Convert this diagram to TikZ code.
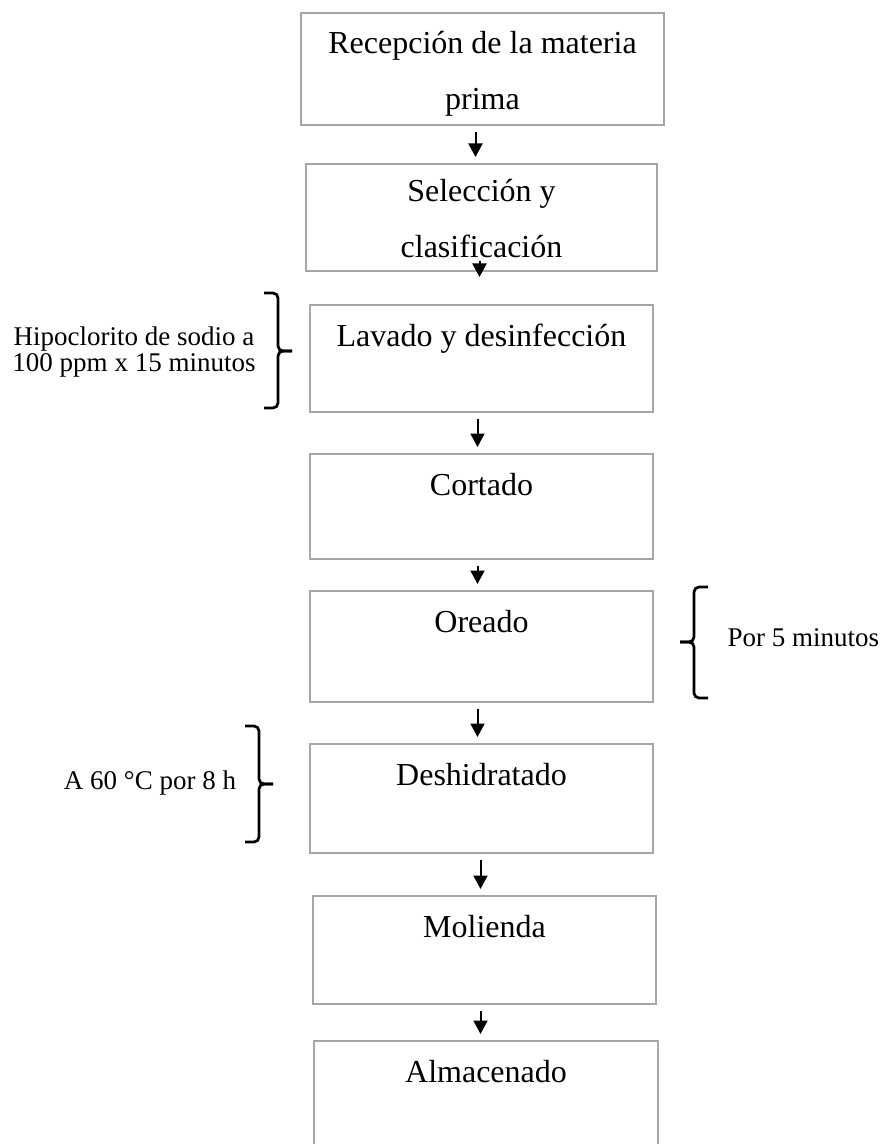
\documentclass[tikz,border=0pt]{standalone}
\usepackage{fontspec}
\setmainfont{Liberation Serif}
\usepackage{tikz}
\usetikzlibrary{arrows.meta, calc}
\definecolor{boxgray}{RGB}{166,166,166}
\newdimen\px
\px=0.4pt
\tikzset{
    stepbox/.style={rectangle, draw=boxgray, line width=0.8pt, inner sep=0pt,
                    align=center, anchor=north west, text height=41\px,
                    font=\fontsize{12.8}{22.4}\selectfont},
    flowarrow/.style={-{Triangle[length=5.4pt, width=5.6pt]}, line width=0.8pt,
                      draw=black, shorten <=6\px, shorten >=6\px},
    notetext/.style={align=center, inner sep=0pt, font=\fontsize{10.8}{10.7}\selectfont},
    bracepath/.style={line width=1.1pt, rounded corners=5\px},
}
\begin{document}
\begin{tikzpicture}[x=0.4pt, y=-0.4pt]
    \clip (0,0) rectangle (881,1144);
    % process steps
    \node[stepbox, minimum width=363\px, text height=97\px, text depth=15\px] (recep) at (300,12) {Recepción de la materia\\prima};
    \node[stepbox, minimum width=351\px, text height=94\px, text depth=13\px] (selec) at (305,163) {Selección y\\clasificación};
    \node[stepbox, minimum width=343\px, text depth=66\px] (lavado) at (309,304) {Lavado y desinfección};
    \node[stepbox, minimum width=343\px, text depth=64\px] (cortado) at (309,453) {Cortado};
    \node[stepbox, minimum width=343\px, text depth=70\px] (oreado) at (309,590) {Oreado};
    \node[stepbox, minimum width=343\px, text depth=68\px] (deshid) at (309,743) {Deshidratado};
    \node[stepbox, minimum width=343\px, text depth=67\px] (molienda) at (312,895) {Molienda};
    \node[stepbox, minimum width=344\px, text depth=90\px] (almac) at (313,1040) {Almacenado};

    \draw[flowarrow] ([xshift=-7\px]recep.south) -- ([xshift=-7\px]recep.south |- selec.north);
    \draw[flowarrow, shorten <=0pt, shorten >=0pt] ([xshift=-2\px, yshift=11\px]selec.south) -- ([xshift=-2\px, yshift=-5\px]selec.south);
    \draw[flowarrow] ([xshift=-4\px]lavado.south) -- ([xshift=-4\px]lavado.south |- cortado.north);
    \draw[flowarrow] ([xshift=-4\px]cortado.south) -- ([xshift=-4\px]cortado.south |- oreado.north);
    \draw[flowarrow] ([xshift=-4\px]oreado.south) -- ([xshift=-4\px]oreado.south |- deshid.north);
    \draw[flowarrow] ([xshift=-1\px]deshid.south) -- ([xshift=-1\px]deshid.south |- molienda.north);
    \draw[flowarrow] ([xshift=-4\px]molienda.south) -- ([xshift=-4\px]molienda.south |- almac.north);

    % conditions
    \node[notetext] (hipo) at (134,352) {Hipoclorito de sodio a\\100 ppm x 15 minutos};
    \node[notetext, anchor=west] (cinco) at (727,638) {Por 5 minutos};
    \node[notetext] (temp) at (150,783) {A 60 °C por 8 h};

    \coordinate (hipotip) at (292,351);
    \coordinate (cincotip) at (680,642);
    \coordinate (temptip) at (273,784);
    \draw[bracepath] (264,293) -- (278,293) -- (278,351) -- (hipotip);
    \draw[bracepath] (hipotip) -- (278,351) -- (278,408) -- (264,408);
    \draw[bracepath] (708,587) -- (694,587) -- (694,642) -- (cincotip);
    \draw[bracepath] (cincotip) -- (694,642) -- (694,698) -- (708,698);
    \draw[bracepath] (245,726) -- (259,726) -- (259,784) -- (temptip);
    \draw[bracepath] (temptip) -- (259,784) -- (259,842) -- (245,842);
\end{tikzpicture}
\end{document}
